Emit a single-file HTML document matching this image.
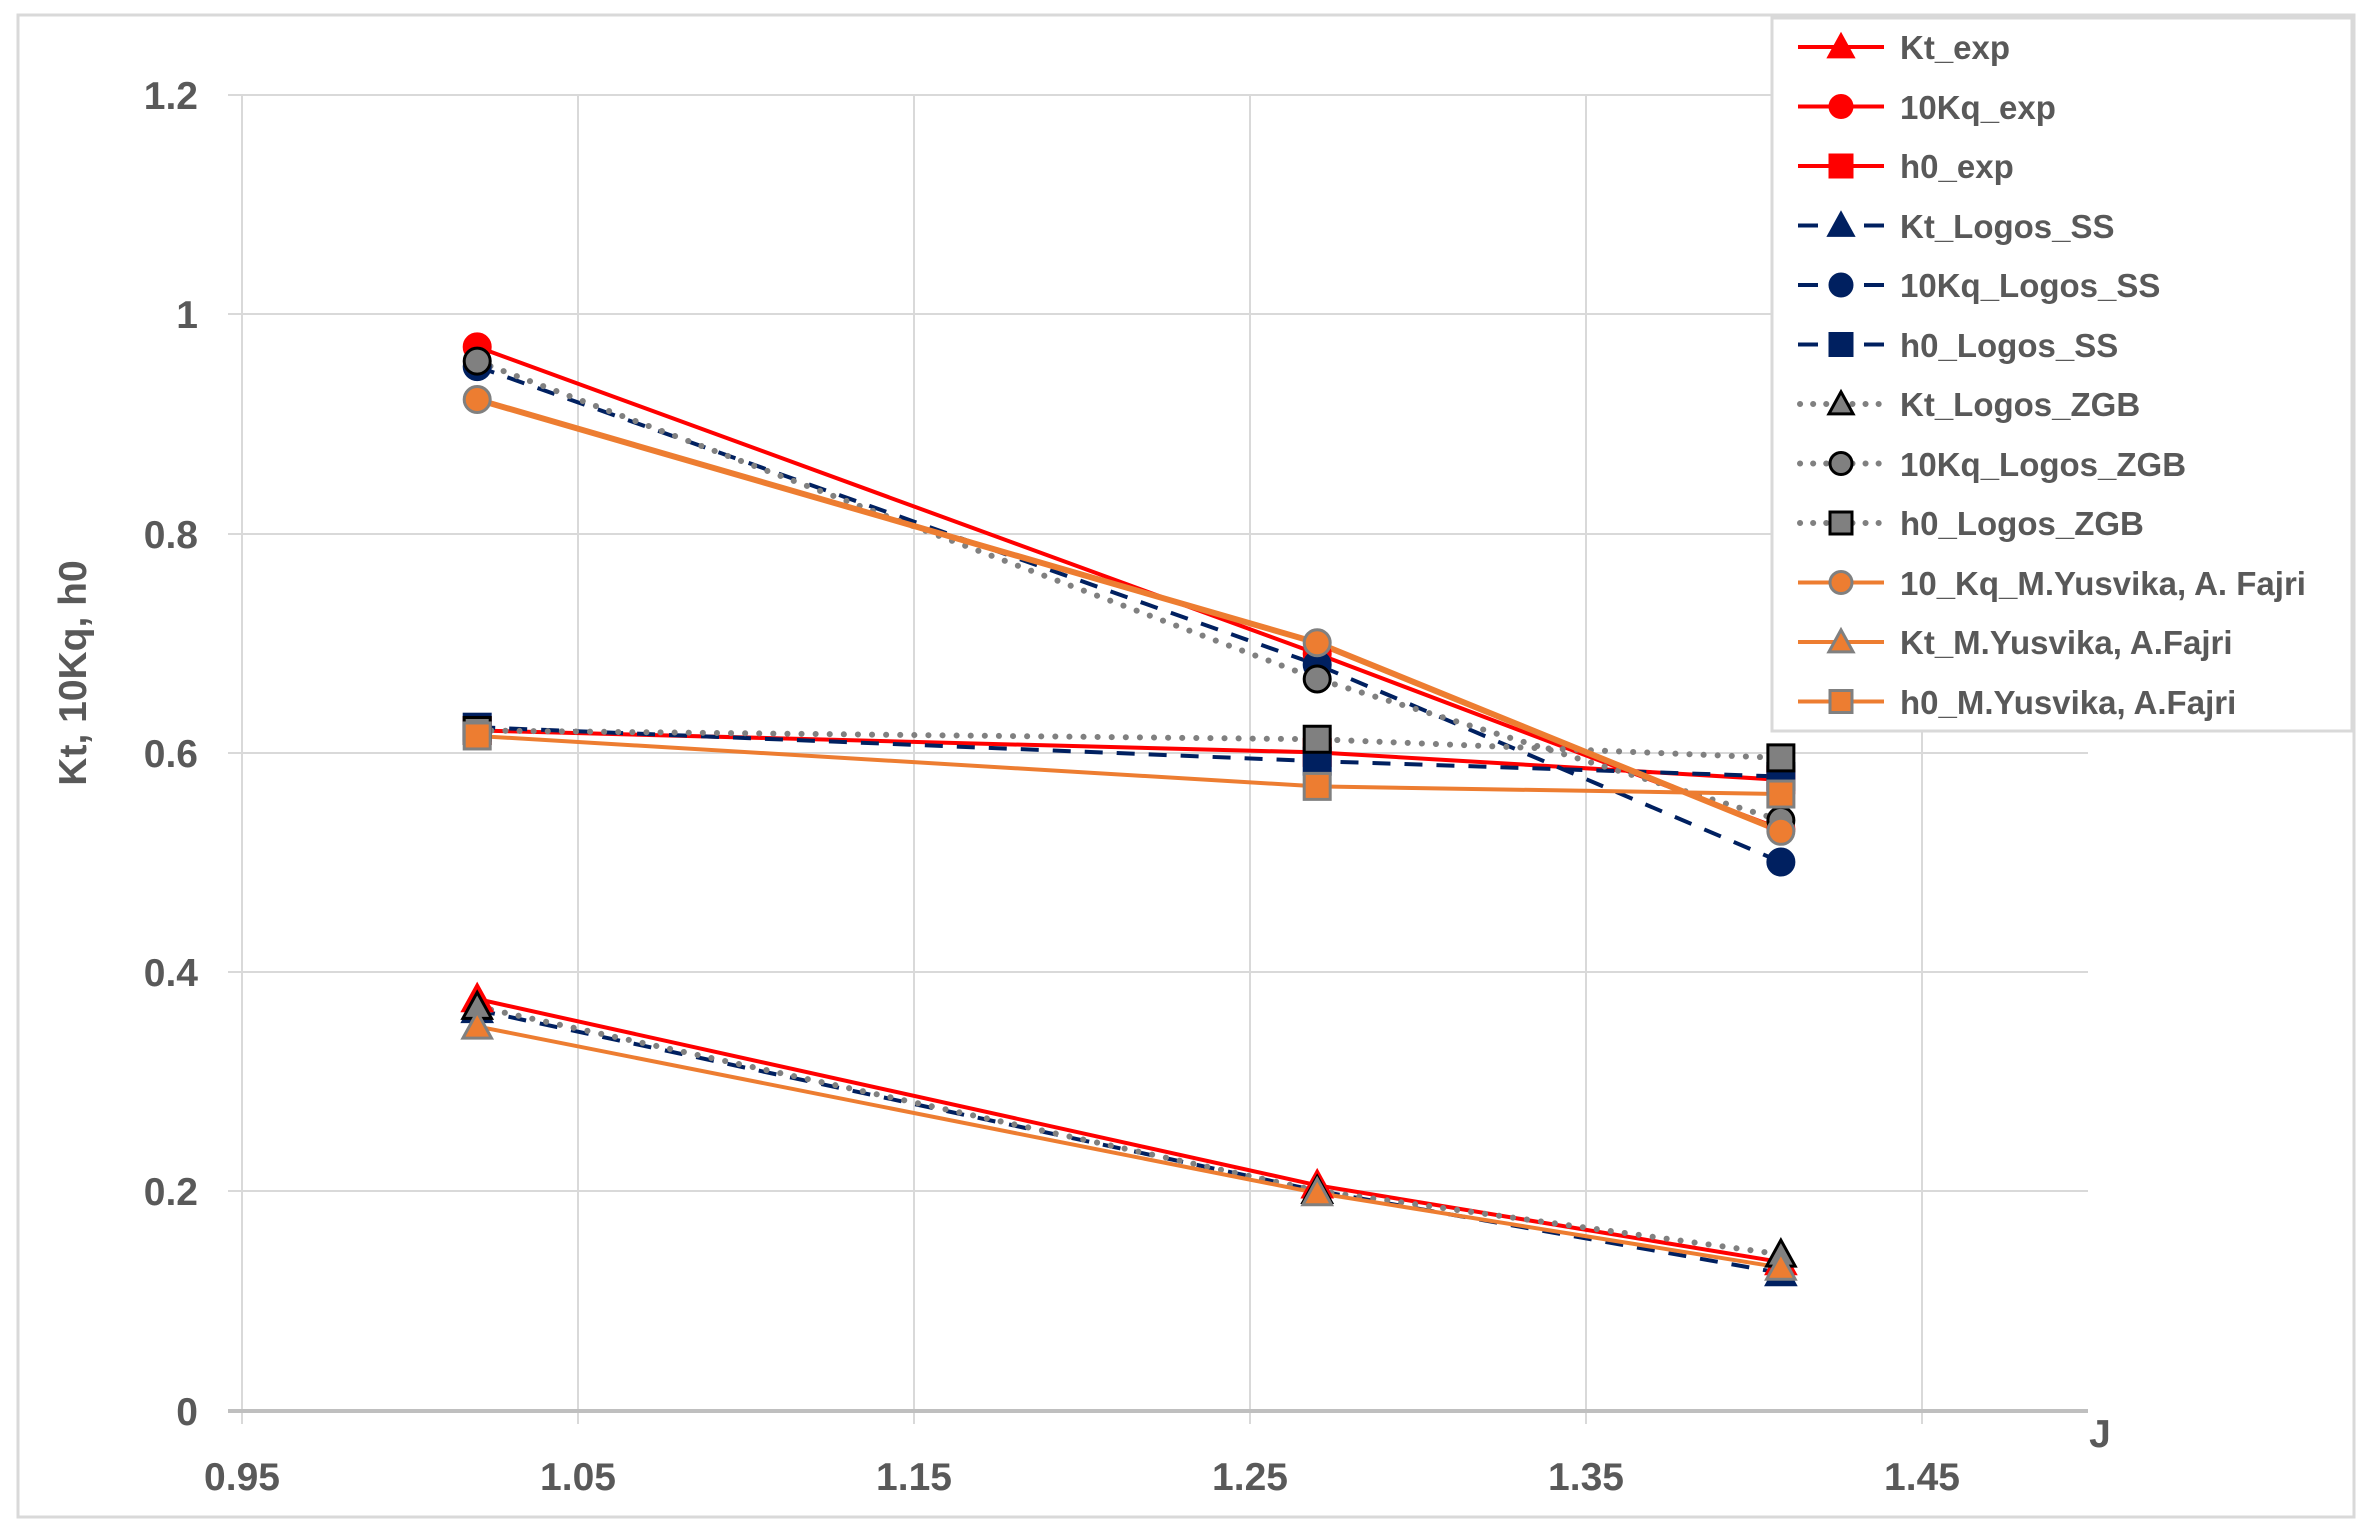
<!DOCTYPE html>
<html><head><meta charset="utf-8"><style>
html,body{margin:0;padding:0;background:#fff}
svg{display:block}
text{font-family:"Liberation Sans",sans-serif;font-weight:bold;fill:#595959}
</style></head><body>
<svg id="s" width="2373" height="1535" viewBox="0 0 2373 1535" xmlns="http://www.w3.org/2000/svg">
<rect x="0" y="0" width="2373" height="1535" fill="#fff"/>
<rect x="18" y="15" width="2336" height="1502" fill="#fff" stroke="#d9d9d9" stroke-width="3"/>
<g stroke="#d9d9d9" stroke-width="2">
<line x1="242" y1="95" x2="242" y2="1424"/><line x1="578" y1="95" x2="578" y2="1424"/><line x1="914" y1="95" x2="914" y2="1424"/><line x1="1250" y1="95" x2="1250" y2="1424"/><line x1="1586" y1="95" x2="1586" y2="1424"/><line x1="1922" y1="95" x2="1922" y2="1424"/>
<line x1="228" y1="95" x2="2088" y2="95"/><line x1="228" y1="314" x2="2088" y2="314"/><line x1="228" y1="534" x2="2088" y2="534"/><line x1="228" y1="753" x2="2088" y2="753"/><line x1="228" y1="972" x2="2088" y2="972"/><line x1="228" y1="1191" x2="2088" y2="1191"/>
</g>
<line x1="228" y1="1411" x2="2088" y2="1411" stroke="#bfbfbf" stroke-width="4"/>
<g font-size="39" text-anchor="end">
<text x="198" y="109">1.2</text><text x="198" y="328">1</text><text x="198" y="548">0.8</text><text x="198" y="767">0.6</text><text x="198" y="986">0.4</text><text x="198" y="1205">0.2</text><text x="198" y="1425">0</text>
</g>
<g font-size="39" text-anchor="middle">
<text x="242" y="1490">0.95</text><text x="578" y="1490">1.05</text><text x="914" y="1490">1.15</text><text x="1250" y="1490">1.25</text><text x="1586" y="1490">1.35</text><text x="1922" y="1490">1.45</text>
</g>
<text x="2100" y="1447" font-size="39" text-anchor="middle">J</text>
<text transform="translate(86,673) rotate(-90)" font-size="39" text-anchor="middle">Kt, 10Kq, h0</text>
<g id="series"></g>
<rect x="1772" y="18" width="580" height="713" fill="#fff" stroke="#d9d9d9" stroke-width="3"/>
<g id="leg"></g>
<g font-size="33">
<text x="1900" y="59">Kt_exp</text>
<text x="1900" y="119">10Kq_exp</text>
<text x="1900" y="178">h0_exp</text>
<text x="1900" y="238">Kt_Logos_SS</text>
<text x="1900" y="297">10Kq_Logos_SS</text>
<text x="1900" y="357">h0_Logos_SS</text>
<text x="1900" y="416">Kt_Logos_ZGB</text>
<text x="1900" y="476">10Kq_Logos_ZGB</text>
<text x="1900" y="535">h0_Logos_ZGB</text>
<text x="1900" y="595">10_Kq_M.Yusvika, A. Fajri</text>
<text x="1900" y="654">Kt_M.Yusvika, A.Fajri</text>
<text x="1900" y="714">h0_M.Yusvika, A.Fajri</text>
</g>
</svg>
<script>
var NS="http://www.w3.org/2000/svg";
function X(j){return 242+(j-0.95)*3360}
function Y(v){return 1410-v*1096}
var J=[1.02,1.27,1.408];
var styles={
exp:{c:"#ff0000",w:4,d:"",fill:"#ff0000",st:"#ff0000"},
ss:{c:"#002060",w:4,d:"18 14",fill:"#002060",st:"#002060"},
zgb:{c:"#808080",w:6,d:"0.1 14",cap:"round",fill:"#808080",st:"#000"},
y:{c:"#ed7d31",w:4,d:"",fill:"#ed7d31",st:"#808080"}
};
var S=[
["exp","tri",[0.375,0.205,0.135]],
["exp","circ",[0.97,0.69,0.53]],
["exp","sq",[0.62,0.60,0.575]],
["ss","tri",[0.365,0.2,0.125]],
["ss","circ",[0.952,0.68,0.5]],
["ss","sq",[0.623,0.592,0.578]],
["zgb","tri",[0.368,0.2,0.142]],
["zgb","circ",[0.957,0.667,0.538]],
["zgb","sq",[0.62,0.612,0.595]],
["y","circ",[0.922,0.70,0.528]],
["y","tri",[0.35,0.198,0.13]],
["y","sq",[0.615,0.569,0.562]]
];
function el(n,a,p){var e=document.createElementNS(NS,n);for(var k in a)e.setAttribute(k,a[k]);p.appendChild(e);return e}
function marker(t,x,y,s,p,r){
 var a={fill:s.fill,stroke:s.st,"stroke-width":3};
 if(t=="circ"){a.cx=x;a.cy=y;a.r=r;el("circle",a,p)}
 else if(t=="sq"){a.x=x-r;a.y=y-r;a.width=2*r;a.height=2*r;el("rect",a,p)}
 else {a.points=(x)+","+(y-r*1.1)+" "+(x-r*1.1)+","+(y+r*0.9)+" "+(x+r*1.1)+","+(y+r*0.9);el("polygon",a,p)}
}
var g=document.getElementById("series");
var lines=el("g",{},g),marks=el("g",{},g);
S.forEach(function(s,k){
 var st=styles[s[0]];
 var pts=J.map(function(j,i){return X(j)+","+Y(s[2][i])}).join(" ");
 var w=st.w; if(k==9) w=6;
 var a={points:pts,fill:"none",stroke:st.c,"stroke-width":w};
 if(st.d)a["stroke-dasharray"]=st.d;
 if(st.cap)a["stroke-linecap"]=st.cap;
 el("polyline",a,lines);
 J.forEach(function(j,i){marker(s[1],X(j),Y(s[2][i]),st,marks,13)});
});
var lg=document.getElementById("leg");
S.forEach(function(s,i){
 var st=styles[s[0]];var y=47+59.5*i;
 var a={x1:1798,y1:y,x2:1884,y2:y,stroke:st.c,"stroke-width":st.w};
 if(s[0]=="ss"){a["stroke-dasharray"]="20 46";}
 if(s[0]=="zgb"){a["stroke-dasharray"]="0.1 13";a["stroke-linecap"]="round";a.x1=1800;}
 el("line",a,lg);
 marker(s[1],1841,y,st,lg,11);
});
</script>
</body></html>
